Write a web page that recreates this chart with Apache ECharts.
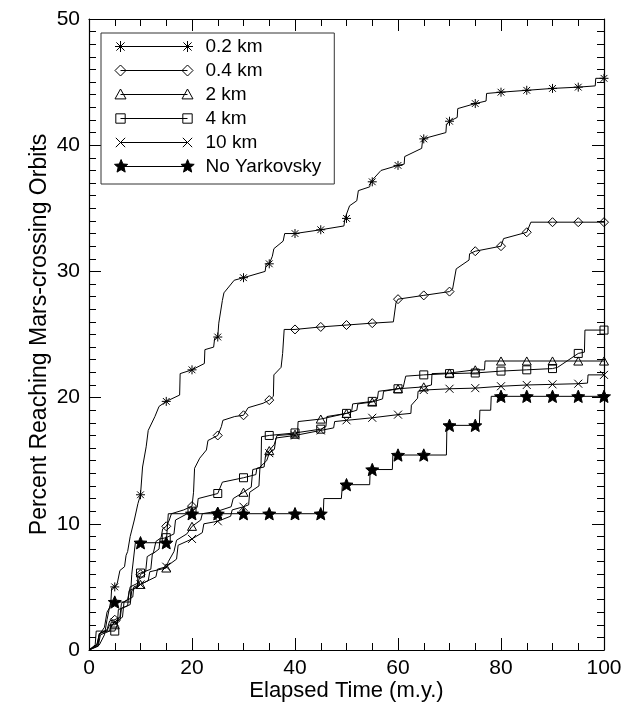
<!DOCTYPE html>
<html><head><meta charset="utf-8">
<script src="https://cdn.jsdelivr.net/npm/echarts@6/dist/echarts.min.js"></script>
<style>html,body{margin:0;padding:0;background:#fff}#c{width:634px;height:715px}</style>
</head><body><div id="c"></div>
<script>
// ---- data (Elapsed time in m.y., percent) ----
const seriesNames = ['0.2 km', '0.4 km', '2 km', '4 km', '10 km', 'No Yarkovsky'];
const markerKinds = ['aster', 'diamond', 'tri', 'square', 'x', 'star'];

const km02 = [[0,0],[1.5,0.4],[2,1.2],[3,1.8],[3.5,3.0],[4.2,3.5],[4.4,4.9],[5,5.0],[5.5,5.3],[6,6.3],[6.9,6.6],[7.2,7.5],[7.5,7.8],[8,9.0],[8.8,10.3],[9.5,11.6],[10,12.3],[10.4,14.5],[11.1,16.1],[11.5,17.4],[12.8,18.5],[13.6,19.3],[15,19.7],[17.6,20.2],[17.7,21.9],[20,22.2],[22.4,22.7],[22.5,23.8],[24.2,24.0],[24.4,24.7],[25,24.8],[25.2,25.9],[25.9,27.7],[26.2,28.3],[28.2,29.3],[30,29.5],[34.2,30.0],[34.4,30.6],[35,30.6],[35.6,31.2],[35.9,31.8],[37.7,32.4],[38.0,33.0],[40,33.0],[45,33.3],[49.5,33.6],[49.7,34.2],[50,34.2],[50.6,35.2],[52,35.6],[52.3,36.4],[54.5,36.7],[54.7,37.1],[55,37.1],[56.7,38.0],[60,38.4],[61.2,38.5],[61.3,39.1],[64.6,39.75],[64.8,40.5],[65,40.5],[69.3,41.0],[69.4,41.6],[70,41.9],[71.5,42.2],[71.6,42.9],[75,43.3],[77.1,43.5],[77.2,44.1],[80,44.2],[85,44.35],[90,44.5],[95,44.6],[98.3,44.7],[98.4,45.3],[100,45.3]];

const km04 = [[0,0],[1.8,0.5],[2,1.3],[3.5,1.6],[4,2.3],[5,2.4],[6,2.6],[6.3,3.7],[7.5,4.0],[8,5.0],[9.5,5.3],[10,6.0],[11,6.2],[11.3,7.4],[12.5,7.7],[13,8.6],[14,8.9],[14.3,9.6],[15,9.8],[15.6,10.3],[16,10.8],[18.4,11.1],[20,11.4],[20.3,12.5],[20.5,14.4],[21.5,15.2],[22.8,15.85],[23.1,16.6],[25,17.0],[25.7,17.7],[26,18.2],[28.3,18.5],[30,18.6],[30.9,19.2],[33.8,19.55],[35,19.8],[35.8,20.1],[35.9,21.8],[37.3,22.4],[37.6,23.5],[37.9,25.4],[40,25.4],[45,25.6],[50,25.75],[55,25.9],[59.1,26.0],[59.6,27.5],[60,27.8],[65,28.1],[70,28.4],[70.6,28.6],[71.3,30.2],[73.8,30.9],[73.9,31.4],[75,31.6],[80,32.0],[80.5,32.6],[85,33.1],[85.8,33.9],[90,33.9],[95,33.9],[100,33.9]];

const km2 = [[0,0],[1.5,0.3],[2,1.3],[3.5,1.5],[4,2.0],[5,2.0],[6,2.3],[6.3,3.3],[8,3.6],[8.3,4.7],[10,5.2],[11.5,5.5],[11.8,6.2],[15,6.5],[15.4,7.0],[16.5,7.8],[17,8.7],[19,9.2],[20,9.8],[21.7,10.3],[22,10.8],[25,11.0],[27.6,11.35],[28,12.0],[30,12.5],[31.5,12.9],[31.8,14.3],[34,14.5],[34.3,15.45],[35,15.8],[36,16.3],[36.5,17.0],[40,17.1],[40.5,17.2],[40.6,18.1],[45,18.3],[50,18.75],[52,19.0],[52.2,19.5],[55,19.65],[57,19.9],[57.2,20.5],[60,20.7],[65,20.85],[66.5,21.0],[66.6,21.9],[70,21.95],[75,22.2],[76.8,22.2],[76.9,22.9],[80,22.9],[85,22.9],[90,22.9],[95,22.9],[100,22.9]];

const km4 = [[0,0],[1.2,0.4],[1.4,1.5],[3.8,1.5],[5,1.5],[5.5,2.0],[5.7,3.2],[7.5,3.5],[7.8,4.7],[9.4,5.0],[9.5,6.0],[10,6.1],[12,6.4],[12.3,7.6],[13.6,8.0],[13.8,8.8],[15,8.9],[16.5,9.2],[16.8,10.3],[20,11.0],[21,11.3],[21.2,12.0],[25,12.4],[25.9,13.3],[30,13.65],[32.4,13.9],[32.6,14.4],[33.4,14.5],[33.5,16.9],[35,17.0],[40,17.2],[45,17.5],[46,17.7],[46.2,18.5],[50,18.75],[51,18.9],[51.2,19.5],[55,19.7],[56,19.9],[56.2,20.5],[60,20.7],[61,20.8],[61.5,21.7],[65,21.8],[70,21.9],[75,21.95],[80,22.1],[85,22.2],[90,22.3],[91,22.4],[95,23.5],[96.2,23.6],[96.3,25.35],[100,25.35]];

const km10 = [[0,0],[1.8,0.3],[2.2,1.2],[4,1.5],[4.3,2.2],[5,2.2],[6.5,2.6],[6.8,3.8],[8.5,4.2],[8.7,5.0],[10,5.2],[13,5.8],[13.3,6.4],[15,6.6],[17,7.2],[17.3,8.3],[20,8.8],[22,9.3],[22.3,10.0],[25,10.2],[27.5,10.6],[27.8,11.1],[30,11.35],[31,11.5],[31.2,12.5],[33,13.0],[33.2,14.5],[34.5,15.0],[35,15.6],[36,15.9],[36.3,16.8],[40,17.0],[45,17.4],[47.5,17.6],[47.7,18.1],[50,18.2],[55,18.4],[60,18.65],[62.5,18.75],[62.6,19.4],[63.8,19.95],[63.9,20.5],[65,20.6],[70,20.7],[75,20.75],[80,20.9],[85,21.0],[90,21.05],[95,21.1],[96.8,21.15],[96.9,21.8],[100,21.8]];

const noYark = [[0,0],[2,0.4],[3,1.2],[3.5,2.4],[4.2,3.8],[5,3.8],[8,3.8],[8.3,6.0],[9,8.5],[10,8.5],[15,8.5],[15.4,10.8],[20,10.8],[25,10.8],[30,10.8],[35,10.8],[40,10.8],[45,10.8],[45.5,10.8],[45.6,12.0],[49,12.0],[49.2,13.1],[50,13.1],[54.5,13.1],[54.6,14.3],[55,14.3],[58.9,14.3],[59,15.45],[60,15.45],[65,15.45],[69.4,15.45],[69.5,17.8],[70,17.8],[75,17.8],[75.8,17.8],[75.9,19.0],[78,19.0],[78.1,20.1],[80,20.1],[85,20.1],[90,20.1],[95,20.1],[100,20.1]];

const seriesData = [km02, km04, km2, km4, km10, noYark];
const xRange = [0, 100];
const yRange = [0, 50];

// ---- styling helpers ----
function markerPath(kind, cx, cy, r) {
  const f = v => +v.toFixed(3);
  switch (kind) {
    case 'aster': {
      const d = r * 0.75;
      return `M${f(cx-r)} ${f(cy)}L${f(cx+r)} ${f(cy)}M${f(cx)} ${f(cy-r)}L${f(cx)} ${f(cy+r)}` +
             `M${f(cx-d)} ${f(cy-d)}L${f(cx+d)} ${f(cy+d)}M${f(cx-d)} ${f(cy+d)}L${f(cx+d)} ${f(cy-d)}`;
    }
    case 'diamond':
      return `M${f(cx)} ${f(cy-r)}L${f(cx+r)} ${f(cy)}L${f(cx)} ${f(cy+r)}L${f(cx-r)} ${f(cy)}Z`;
    case 'tri':
      return `M${f(cx)} ${f(cy-r)}L${f(cx+r)} ${f(cy+0.8*r)}L${f(cx-r)} ${f(cy+0.8*r)}Z`;
    case 'square': {
      const d = r * 0.85;
      return `M${f(cx-d)} ${f(cy-d)}L${f(cx+d)} ${f(cy-d)}L${f(cx+d)} ${f(cy+d)}L${f(cx-d)} ${f(cy+d)}Z`;
    }
    case 'x': {
      const d = r * 0.85;
      return `M${f(cx-d)} ${f(cy-d)}L${f(cx+d)} ${f(cy+d)}M${f(cx-d)} ${f(cy+d)}L${f(cx+d)} ${f(cy-d)}`;
    }
    case 'star': {
      let s = '';
      for (let i = 0; i < 10; i++) {
        const a = -Math.PI / 2 + i * Math.PI / 5;
        const rr = i % 2 === 0 ? r : r * 0.45;
        s += (i === 0 ? 'M' : 'L') + f(cx + rr * Math.cos(a)) + ' ' + f(cy + rr * Math.sin(a));
      }
      return s + 'Z';
    }
  }
}
const symbolSizes = [9, 9, 9, 8, 8, 13];
const legendW = 86, legendH = 14;
function legendIcon(kind) {
  const r = kind === 'star' ? 7 : 5.5;
  return 'path://M0 0M' + legendW + ' ' + legendH +
    markerPath(kind, 6, 7, r) + 'M6 7L73 7' + markerPath(kind, 73, 7, r);
}

const FONT = 'Liberation Sans, Arial, Helvetica, sans-serif';

const series = seriesNames.map((name, i) => {
  const kind = markerKinds[i];
  const filled = kind === 'star';
  const sym = 'path://' + markerPath(kind, 5, 5, 5);
  return {
    name, type: 'line', data: seriesData[i],
    xAxisIndex: 0, yAxisIndex: 0,
    showAllSymbol: true,
    symbol: (v) => (v[0] > 0 && v[0] % 5 === 0) ? sym : 'none',
    symbolSize: symbolSizes[i],
    symbolKeepAspect: true,
    itemStyle: { color: filled ? '#000' : 'none', borderColor: '#000', borderWidth: 1 },
    lineStyle: { color: '#000', width: 1 },
    emphasis: { disabled: true },
    silent: true,
    z: 2 + i
  };
});

const axisCommon = {
  type: 'value',
  axisLine: { show: true, onZero: false, lineStyle: { color: '#000', width: 1.2 } },
  axisTick: { show: true, inside: true, length: 12, lineStyle: { color: '#000', width: 1 } },
  minorTick: { show: true, length: 7, lineStyle: { color: '#000', width: 1 } },
  splitLine: { show: false },
  minorSplitLine: { show: false }
};
const labelStyle = { color: '#000', fontFamily: FONT, fontSize: 21 };

const option = {
  animation: false,
  backgroundColor: '#fff',
  grid: { left: 89, right: 30, top: 19, bottom: 65, containLabel: false },
  xAxis: [
    Object.assign({}, axisCommon, {
      position: 'bottom', min: xRange[0], max: xRange[1], interval: 20,
      minorTick: Object.assign({}, axisCommon.minorTick, { splitNumber: 4 }),
      axisLabel: Object.assign({ margin: 8 }, labelStyle),
      name: 'Elapsed Time (m.y.)', nameLocation: 'middle', nameGap: 30,
      nameMoveOverlap: false,
      nameTextStyle: { color: '#000', fontFamily: FONT, fontSize: 22 }
    }),
    Object.assign({}, axisCommon, {
      position: 'top', min: xRange[0], max: xRange[1], interval: 20,
      minorTick: Object.assign({}, axisCommon.minorTick, { splitNumber: 4 }),
      axisLabel: { show: false }
    })
  ],
  yAxis: [
    Object.assign({}, axisCommon, {
      position: 'left', min: yRange[0], max: yRange[1], interval: 10,
      minorTick: Object.assign({}, axisCommon.minorTick, { splitNumber: 10 }),
      axisLabel: Object.assign({ margin: 9 }, labelStyle),
      name: 'Percent Reaching Mars-crossing Orbits', nameLocation: 'middle', nameGap: 38,
      nameRotate: 90, nameMoveOverlap: false,
      nameTextStyle: { color: '#000', fontFamily: FONT, fontSize: 23 }
    }),
    Object.assign({}, axisCommon, {
      position: 'right', min: yRange[0], max: yRange[1], interval: 10,
      minorTick: Object.assign({}, axisCommon.minorTick, { splitNumber: 10 }),
      axisLabel: { show: false }
    })
  ],
  legend: {
    orient: 'vertical', left: 101, top: 33,
    padding: [4, 13, 8, 11],
    itemGap: 5, itemWidth: legendW, itemHeight: legendH,
    symbolKeepAspect: true,
    borderColor: '#333', borderWidth: 1, backgroundColor: '#fff',
    selectedMode: false,
    textStyle: { color: '#000', fontFamily: FONT, fontSize: 19, lineHeight: 19 },
    data: seriesNames.map((name, i) => ({
      name, icon: legendIcon(markerKinds[i]),
      itemStyle: { color: markerKinds[i] === 'star' ? '#000' : 'none', borderColor: '#000', borderWidth: 1 }
    }))
  },
  series
};

const chart = echarts.init(document.getElementById('c'), null, { renderer: 'canvas' });
chart.setOption(option);
</script></body></html>
